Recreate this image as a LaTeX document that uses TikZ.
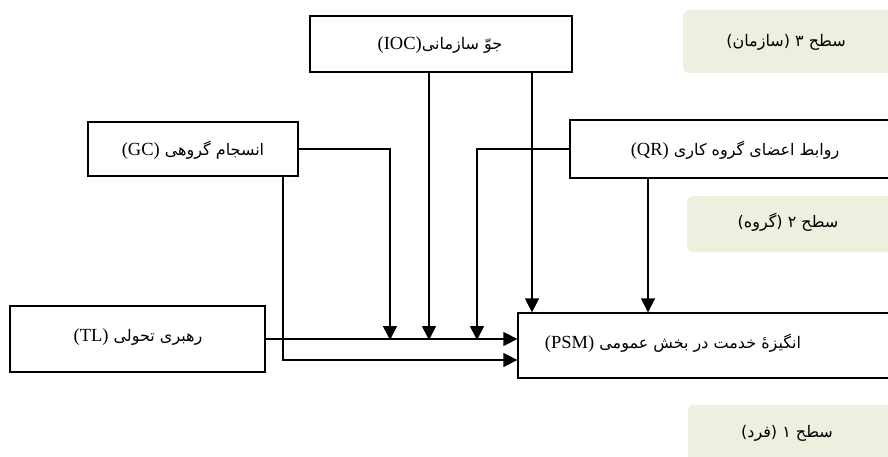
\documentclass[tikz,border=0pt]{standalone}
\usepackage{fontspec}
\setmainfont{Liberation Serif}
\newfontfamily\arabicfont[Script=Arabic]{DejaVu Sans}
\TeXXeTstate=1
\usetikzlibrary{arrows.meta}
\definecolor{lvlgreen}{HTML}{EBF1DE}
\newcommand{\fa}[2]{{\arabicfont\fontsize{16}{19}\selectfont\beginR #1\beginL{\rmfamily\fontsize{18.5}{21}\selectfont #2}\endL\endR}}
\newcommand{\faonly}[1]{{\arabicfont\fontsize{16}{19}\selectfont\beginR #1\endR}}
\begin{document}
\begin{tikzpicture}[x=1pt,y=-1pt,
  box/.style={draw=black,line width=1.3pt,inner sep=0pt},
  txt/.style={inner sep=0pt},
  lvl/.style={fill=lvlgreen,rounded corners=6pt,inner sep=0pt},
  conn/.style={line width=1.6pt,-{Triangle[length=14pt,width=14pt]}}]
\useasboundingbox (0,0) rectangle (888,457);
% level labels
\node[lvl,minimum width=210pt,minimum height=63pt] (l3) at (788,41.5) {};
\node[txt] (l3t) at (786,42) {\faonly{سطح ۳ (سازمان)}};
\node[lvl,minimum width=206pt,minimum height=56pt] (l2) at (790,224) {};
\node[txt] (l2t) at (788,222) {\faonly{سطح ۲ (گروه)}};
\node[lvl,minimum width=206pt,minimum height=60pt] (l1) at (791,435) {};
\node[txt] (l1t) at (787,433) {\faonly{سطح ۱ (فرد)}};
% boxes
\node[box,minimum width=262pt,minimum height=56pt] (ioc) at (441,44) {};
\node[txt] (ioct) at (440,45) {\fa{جوّ سازمانی}{(IOC)}};
\node[box,minimum width=210pt,minimum height=54pt] (gc) at (193,149) {};
\node[txt] (gct) at (193,150) {\fa{انسجام گروهی }{(GC)}};
\node[box,minimum width=340pt,minimum height=58pt] (qr) at (740,149) {};
\node[txt] (qrt) at (735,150) {\fa{روابط اعضای گروه کاری }{(QR)}};
\node[box,minimum width=255pt,minimum height=66pt] (tl) at (137.5,339) {};
\node[txt] (tlt) at (138,337) {\fa{رهبری تحولی }{(TL)}};
\node[box,minimum width=385pt,minimum height=65pt] (psm) at (710.5,345.5) {};
\node[txt] (psmt) at (673,343) {\fa{انگیزهٔ خدمت در بخش عمومی }{(PSM)}};
% junction coordinates
\coordinate (j1) at (390,340);
\coordinate (j2) at (429,340);
\coordinate (j3) at (477,340);
\coordinate (t1) at (532,313);
\coordinate (t2) at (648,313);
\coordinate (g1) at (283,360);
% connectors
\draw[conn] (gc.east) -| (j1);
\draw[conn] (ioc.south -| j2) -- (j2);
\draw[conn] (qr.west) -| (j3);
\draw[conn] (ioc.south -| t1) -- (psm.north -| t1);
\draw[conn] (qr.south -| t2) -- (psm.north -| t2);
\draw[conn] (tl.east) -- (tl.east -| psm.west);
\draw[conn] (gc.south -| g1) |- (g1 -| psm.west);
\end{tikzpicture}
\end{document}
